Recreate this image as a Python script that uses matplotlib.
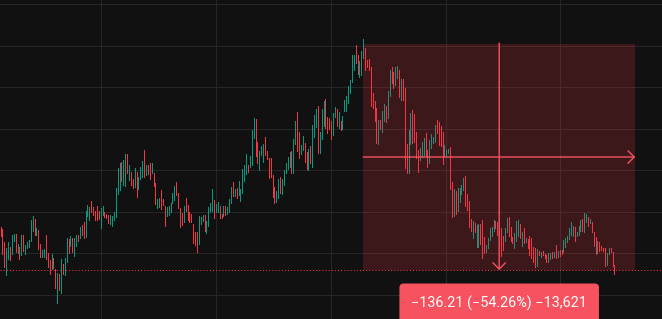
#!/usr/bin/env python3
"""
Price range measurement on a dark candlestick chart
"""

import matplotlib

matplotlib.use("Agg")
import matplotlib.pyplot as plt
from matplotlib.patches import Rectangle

# ============================================
# DATA
# ============================================

highs = [
    140.5, 139.3, 131.5, 127.9, 131.5, 128.5, 135.7, 136.3, 136.3, 130.3,
    128.5, 135.7, 135.7, 129.7, 131.5, 132.7, 144.7, 147.1, 145.3, 139.9,
    138.7, 130.3, 126.7, 127.3, 135.7, 124.9, 120.7, 124.3, 121.9, 115.3,
    112.9, 112.3, 121.3, 118.3, 121.9, 133.9, 133.3, 135.1, 133.9, 133.9,
    135.7, 135.7, 140.5, 141.7, 143.5, 150.1, 154.3, 152.5, 156.7, 152.5,
    150.1, 153.1, 150.1, 151.9, 153.7, 149.5, 148.3, 147.7, 147.7, 147.1,
    149.5, 164.5, 176.5, 179.5, 180.1, 181.3, 184.9, 184.9, 178.3, 174.1,
    169.9, 176.5, 174.1, 171.1, 177.1, 180.7, 187.3, 178.3, 178.3, 179.5,
    179.5, 173.5, 167.5, 157.9, 158.5, 163.3, 157.9, 153.1, 152.5, 153.1,
    155.5, 161.5, 165.7, 168.1, 161.5, 151.9, 148.9, 153.1, 158.5, 154.3,
    149.5, 148.3, 142.3, 137.5, 137.5, 147.1, 146.5, 147.7, 147.7, 144.1,
    152.5, 155.5, 163.9, 157.3, 154.9, 156.1,
    153.7, 148.3, 153.7, 153.7, 152.5, 157.9, 165.1, 168.1, 163.9, 164.5,
    168.7, 163.9, 175.9, 178.3, 184.9, 178.3, 183.7, 199.3, 206.5, 205.9,
    192.1, 186.7, 189.7, 190.9, 195.1, 186.7, 182.5, 182.5, 172.3, 165.1,
    162.7, 169.9, 171.1, 169.9, 175.3, 179.5, 183.1, 186.1, 186.7, 193.9,
    204.7, 210.1, 198.1, 190.3, 195.7, 191.5, 186.1, 187.9,
    189.7, 202.3, 208.3, 211.9, 213.7, 198.1, 211.9, 216.7, 217.9, 207.1,
    206.5, 204.7, 209.5, 213.1, 211.9, 210.1, 204.7, 207.7, 217.3, 219.7,
    225.7, 229.3, 244.3, 244.3, 250.3, 244.3, 240.7, 246.7, 253.9, 248.5,
    241.3, 241.9, 237.1, 221.5, 216.7, 212.5, 205.3, 205.3, 210.7, 214.9,
    213.7, 222.7, 235.3, 237.1, 234.1, 237.1, 237.7, 235.3, 229.9, 229.9,
    224.5, 190.9, 199.3, 209.5, 211.3, 208.9, 198.1, 187.3, 188.5, 192.1,
    194.5, 197.5, 187.3, 193.3, 196.9, 195.1, 202.3, 205.3, 204.1, 201.7,
    198.1, 190.3, 187.3, 187.9, 189.1, 168.1, 163.9, 162.7, 164.5, 164.5,
    166.3, 170.5, 171.7, 160.9, 156.7,
    145.3, 144.1, 142.9, 141.7, 142.3, 142.3, 144.7, 134.5, 129.7, 133.9,
    139.9, 140.5, 144.7, 144.1, 143.5, 138.7, 139.9, 135.1, 139.9, 145.9,
    146.5, 140.5, 134.5, 136.9, 144.1, 144.7, 142.3, 137.5, 139.9, 133.9,
    133.3, 135.1, 133.9, 128.5, 127.9, 127.3, 126.1, 125.5, 126.1, 124.3,
    123.7, 124.9, 124.9, 125.5, 125.5, 129.7, 126.1, 126.7, 126.7, 132.7,
    133.9, 135.1, 139.9, 143.5, 141.1, 140.5, 137.5, 141.1, 144.7, 145.3,
    148.9, 148.3, 146.5, 145.3, 143.5, 137.5, 134.5, 132.1, 131.5, 129.1,
    127.9, 127.9, 124.9, 127.9, 127.9, 125.5, 117.7,
]

lows = [
    135.1, 124.3, 116.5, 111.7, 121.3, 120.7, 124.3, 132.1, 125.5, 124.9,
    121.3, 123.7, 126.1, 124.3, 127.9, 128.5, 132.1, 138.1, 135.7, 135.7,
    127.3, 122.5, 122.5, 122.5, 121.3, 116.5, 112.3, 115.3, 115.9, 103.9,
    94.9, 102.7, 100.9, 112.3, 111.7, 119.5, 124.9, 129.1, 125.5, 123.1,
    129.1, 132.1, 133.9, 135.7, 133.9, 134.5, 147.1, 144.7, 149.5, 147.7,
    144.7, 144.7, 145.3, 139.9, 147.7, 146.5, 145.9, 142.9, 142.3, 141.1,
    144.7, 146.5, 160.9, 163.3, 168.7, 166.3, 165.7, 173.5, 169.3, 166.3,
    164.5, 165.1, 159.1, 163.9, 169.9, 171.1, 171.1, 172.3, 172.9, 169.9,
    173.5, 165.7, 154.9, 151.9, 152.5, 151.3, 154.3, 141.1, 147.1, 147.7,
    149.5, 155.5, 157.3, 160.3, 151.9, 140.5, 141.7, 143.5, 150.1, 144.7,
    143.5, 143.5, 130.9, 129.7, 125.5, 130.3, 142.3, 144.1, 138.1, 136.9,
    141.1, 149.5, 150.1, 145.9, 149.5, 149.5,
    145.9, 145.9, 147.1, 147.7, 148.3, 149.5, 155.5, 159.7, 159.7, 158.5,
    160.3, 156.7, 161.5, 168.7, 172.9, 174.1, 177.1, 178.3, 194.5, 183.7,
    179.5, 175.3, 184.3, 180.1, 184.3, 181.9, 170.5, 171.1, 159.1, 155.5,
    156.1, 158.5, 161.5, 160.9, 166.3, 173.5, 175.9, 177.1, 173.5, 173.5,
    190.9, 186.7, 182.5, 184.9, 187.3, 180.1, 175.9, 175.3,
    179.5, 177.1, 195.1, 201.1, 185.5, 185.5, 193.9, 201.7, 200.5, 197.5,
    199.9, 193.9, 196.3, 207.1, 201.7, 200.5, 199.3, 199.9, 210.7, 210.7,
    215.5, 221.5, 228.1, 235.3, 239.5, 232.9, 231.1, 232.3, 242.5, 235.3,
    237.1, 235.3, 213.7, 212.5, 204.7, 191.5, 190.9, 199.9, 198.1, 204.7,
    204.1, 206.5, 219.7, 227.5, 224.5, 226.3, 230.5, 219.1, 217.3, 217.3,
    176.5, 173.5, 173.5, 190.9, 191.5, 192.1, 182.5, 174.1, 181.3, 183.1,
    184.3, 183.7, 177.1, 179.5, 188.5, 191.5, 192.1, 197.5, 190.3, 189.7,
    178.9, 183.7, 183.7, 185.5, 163.9, 146.5, 147.1, 148.3, 150.1, 156.1,
    160.9, 163.3, 153.7, 150.7, 140.5,
    138.1, 133.9, 137.5, 128.5, 128.5, 130.3, 121.9, 124.9, 125.5, 127.9,
    132.7, 135.1, 138.1, 139.9, 135.7, 134.5, 123.1, 126.7, 132.1, 137.5,
    135.1, 132.1, 130.9, 127.9, 132.1, 135.1, 133.9, 129.1, 130.9, 131.5,
    127.9, 123.7, 121.9, 119.5, 116.5, 117.1, 123.7, 122.5, 123.7, 121.9,
    119.5, 119.5, 121.3, 121.9, 122.5, 121.9, 122.5, 123.1, 124.3, 125.5,
    128.5, 131.5, 133.3, 135.7, 135.1, 132.1, 135.1, 135.7, 138.1, 138.1,
    137.5, 143.5, 141.1, 142.9, 137.5, 129.1, 124.3, 124.9, 126.1, 126.7,
    126.1, 117.1, 117.7, 124.3, 125.5, 117.1, 112.3,
]

# u = close above open (green), d = close below open (red)
direction = "".join([
    "ddduuduudu", "duduuuuudu", "dduudddudd", "ududuududu", "ududduuudd",
    "ddduuddduu", "uuuuduudud", "duduuududd", "udduuddduu", "uuuddddudd",
    "ddddduuudu", "uuuduu",
    "dduduuudud", "uuuuuduuud", "duuudddddd", "uuduuuuudu", "udduuddu",
    "duuuduuudd", "dduududuuu", "uuuudduuud", "dddddduduu", "duudduudud",
    "dduudddduu", "udduuuuddd", "duuudduduu", "uuddd",
    "duduuddduu", "uuuddddduu", "ddduuududu", "dddddududd", "duudududdu",
    "uuuuuduuud", "uududddudd", "dduuddd",
])

# time grid (bar index) and price grid
time_grid = [53, 114, 175, 236, 296]
price_grid = [100, 125, 150, 175, 200, 225, 250, 275]

# price range tool
range_start_bar = 192
range_end_bar = 336
range_from_price = 251.03
range_to_price = 114.82
tick_size = 0.01

# ============================================
# CONFIGURATION
# ============================================

STYLE = {
    "bg": "#111111",
    "grid": "#262626",
    "up": "#089981",
    "down": "#f23645",
    "range": "#f7525f",
    "text": "#ffffff",
}


def setup_axes():
    fig = plt.figure(figsize=(6.62, 3.19), dpi=100)
    fig.patch.set_facecolor(STYLE["bg"])
    ax = fig.add_axes([0, 0, 1, 1])
    ax.set_facecolor(STYLE["bg"])
    for spine in ax.spines.values():
        spine.set_visible(False)
    ax.set_xticks(time_grid)
    ax.set_yticks(price_grid)
    ax.tick_params(length=0, labelbottom=False, labelleft=False)
    ax.grid(True, color=STYLE["grid"], linewidth=0.75)
    ax.set_axisbelow(True)
    ax.set_xlim(-0.3, 350.2)
    ax.set_ylim(85.3, 277.55)
    return fig, ax


# ============================================
# DRAWING
# ============================================


def draw_candles(ax):
    assert len(highs) == len(lows) == len(direction)
    xs = list(range(len(highs)))
    colors = [STYLE["up"] if d == "u" else STYLE["down"] for d in direction]
    ax.vlines(xs, lows, highs, colors=colors, linewidth=0.5,
              antialiased=False, zorder=2)

    # last price line
    ax.axhline(range_to_price, color=STYLE["down"], linewidth=0.75,
               linestyle=(0, (1.0, 2.0)), zorder=3)


def draw_price_range(ax):
    x0, x1 = range_start_bar, range_end_bar
    mid_x = (x0 + x1) / 2
    mid_p = (range_from_price + range_to_price) / 2

    box = Rectangle((x0, range_to_price), x1 - x0,
                    range_from_price - range_to_price,
                    facecolor=STYLE["down"], alpha=0.2, edgecolor="none",
                    zorder=4)
    ax.add_patch(box)

    arrow = dict(arrowstyle="->,head_length=0.45,head_width=0.45",
                 color=STYLE["range"], lw=1.0, shrinkA=0, shrinkB=0)
    ax.annotate("", xy=(x1, mid_p), xytext=(x0, mid_p),
                arrowprops=arrow, zorder=5)
    ax.annotate("", xy=(mid_x, range_to_price),
                xytext=(mid_x, range_from_price + 0.6),
                arrowprops=arrow, zorder=5)

    change = range_to_price - range_from_price
    pct = change / range_from_price * 100
    ticks = round(change / tick_size)
    sign = "\u2212" if change < 0 else ""
    label = f"{sign}{abs(change):.2f} ({sign}{abs(pct):.2f}%) {sign}{abs(ticks):,}"

    ax.annotate(
        label,
        xy=(mid_x, range_to_price),
        xytext=(0, -33),
        textcoords="offset pixels",
        ha="center",
        va="center",
        color=STYLE["text"],
        fontsize=10.4,
        family=["Roboto", "DejaVu Sans"],
        bbox=dict(boxstyle="round,pad=0.82,rounding_size=0.3",
                  facecolor=STYLE["range"], edgecolor="none"),
        zorder=6,
        annotation_clip=False,
    )


# ============================================
# MAIN
# ============================================

if __name__ == "__main__":
    fig, ax = setup_axes()
    draw_candles(ax)
    draw_price_range(ax)
    fig.savefig("out.png", dpi=100, facecolor=STYLE["bg"])
    plt.close()
